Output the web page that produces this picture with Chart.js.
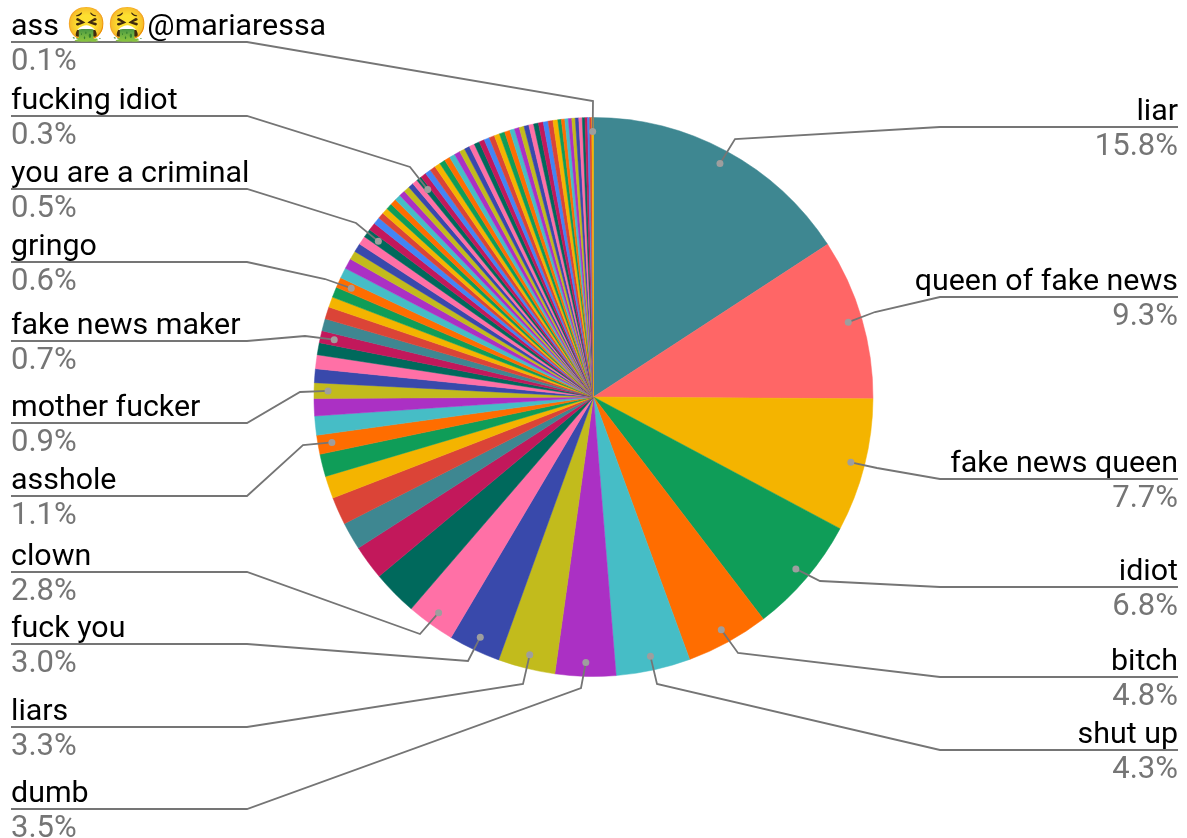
<!DOCTYPE html>
<html lang="en">
<head>
    <meta charset="UTF-8">
    <title>Replies</title>
    <script src="https://cdn.jsdelivr.net/npm/chart.js@4/dist/chart.umd.min.js"></script>
    <style>
        html, body { margin: 0; padding: 0; background: #fff; }
        canvas { display: block; }
    </style>
</head>
<body>
    <canvas id="pie" width="1187" height="838"></canvas>
    <script>
        // share of each phrase, clockwise from the top
        const values = [
            15.8, 9.3, 7.7, 6.8, 4.8, 4.3, 3.5, 3.3, 3.0, 2.8,
            2.6, 2.0, 1.6, 1.6, 1.3, 1.3, 1.1, 1.1, 1.0, 0.9,
            0.8, 0.8, 0.7, 0.7, 0.7, 0.7, 0.6, 0.6, 0.6, 0.6,
            0.6, 0.5, 0.5, 0.5, 0.5, 0.45, 0.4, 0.35, 0.35, 0.35,
            0.35, 0.35, 0.35, 0.35, 0.3, 0.3, 0.3,
            0.33, 0.33, 0.33, 0.33, 0.33, 0.33, 0.33, 0.33,
            0.31, 0.31, 0.31, 0.31, 0.31, 0.31, 0.31, 0.31, 0.31, 0.31,
            0.28, 0.28, 0.28, 0.28, 0.28, 0.28, 0.28, 0.28, 0.28, 0.28,
            0.2, 0.2, 0.2, 0.2, 0.2, 0.2, 0.2,
            0.15, 0.15, 0.12, 0.12, 0.1
        ];

        // phrases that get a callout, by slice index
        const names = {
            0: 'liar', 1: 'queen of fake news', 2: 'fake news queen', 3: 'idiot',
            4: 'bitch', 5: 'shut up', 6: 'dumb', 7: 'liars', 8: 'fuck you', 9: 'clown',
            16: 'asshole', 19: 'mother fucker', 23: 'fake news maker', 28: 'gringo',
            34: 'you are a criminal', 46: 'fucking idiot', 86: 'ass 🤮🤮@mariaressa'
        };

        const palette = ['#4285f4', '#db4437', '#f4b400', '#0f9d58', '#ff6d00', '#46bdc6',
                         '#ab30c4', '#c2bb1c', '#3949ab', '#ff70a6', '#00695c', '#c2185b'];
        const sliceColors = values.map((v, i) => {
            if (i === 0 || i === 12 || i === 24) return '#3e8791';
            if (i === 1) return '#ff6666';
            return palette[i % palette.length];
        });

        // callout layout: underline height and where the leader bends
        const callouts = {
            0:  { y: 127, bend: [735, 139] },
            1:  { y: 297, bend: [875, 312] },
            2:  { y: 479, bend: [877, 468] },
            3:  { y: 587, bend: [820, 581] },
            4:  { y: 677, bend: [738, 653] },
            5:  { y: 750, bend: [657, 684] },
            6:  { y: 809, bend: [581, 688] },
            7:  { y: 727, bend: [523, 684] },
            8:  { y: 644, bend: [468, 661] },
            9:  { y: 572, bend: [420, 634] },
            16: { y: 496, bend: [303, 445] },
            19: { y: 423, bend: [300, 392] },
            23: { y: 341, bend: [305, 336] },
            28: { y: 262, bend: [325, 279] },
            34: { y: 189, bend: [356, 223] },
            46: { y: 116, bend: [410, 167] },
            86: { y: 42,  bend: [593, 101] }
        };

        // emoji runs are set a little larger than the text around them
        function drawName(ctx, text, x, y) {
            text.split(/(\p{Extended_Pictographic}+)/u).forEach((part, n) => {
                ctx.font = n % 2 ? '32.5px "Noto Color Emoji", Roboto, sans-serif' : '30.4px Roboto, sans-serif';
                ctx.fillText(part, x, y);
                x += ctx.measureText(part).width;
            });
        }

        const calloutPlugin = {
            id: 'callouts',
            afterDraw(chart) {
                const ctx = chart.ctx;
                const arcs = chart.getDatasetMeta(0).data;
                ctx.save();
                Object.keys(callouts).forEach(key => {
                    const i = Number(key);
                    const c = callouts[i];
                    const arc = arcs[i];
                    const mid = (arc.startAngle + arc.endAngle) / 2;
                    const dotX = arc.x + Math.cos(mid) * arc.outerRadius * 0.95;
                    const dotY = arc.y + Math.sin(mid) * arc.outerRadius * 0.95;
                    const right = dotX > arc.x;

                    // leader
                    ctx.strokeStyle = '#757575';
                    ctx.lineWidth = 1.8;
                    ctx.beginPath();
                    ctx.moveTo(right ? 1178 : 11, c.y);
                    ctx.lineTo(right ? 940 : 247, c.y);
                    ctx.lineTo(c.bend[0], c.bend[1]);
                    ctx.lineTo(dotX, dotY);
                    ctx.stroke();

                    ctx.fillStyle = '#9e9e9e';
                    ctx.beginPath();
                    ctx.arc(dotX, dotY, 3.5, 0, Math.PI * 2);
                    ctx.fill();

                    // name above the line, share below it
                    ctx.textBaseline = 'alphabetic';
                    ctx.textAlign = right ? 'right' : 'left';
                    ctx.fillStyle = '#000';
                    drawName(ctx, names[i], right ? 1178 : 11, c.y - 7);
                    ctx.font = '31px Roboto, sans-serif';
                    ctx.fillStyle = '#757575';
                    ctx.fillText(values[i].toFixed(1) + '%', right ? 1178 : 11, c.y + 28);
                });
                ctx.restore();
            }
        };

        new Chart(document.getElementById('pie'), {
            type: 'pie',
            data: {
                labels: values.map((v, i) => names[i] || ''),
                datasets: [{
                    data: values,
                    backgroundColor: sliceColors,
                    borderColor: sliceColors,
                    borderWidth: 0.5,
                    radius: 279.5
                }]
            },
            options: {
                responsive: false,
                animation: false,
                layout: { padding: { left: 0, bottom: 44 } },
                plugins: {
                    legend: { display: false },
                    tooltip: { enabled: false }
                }
            },
            plugins: [calloutPlugin]
        });
    </script>
</body>
</html>
